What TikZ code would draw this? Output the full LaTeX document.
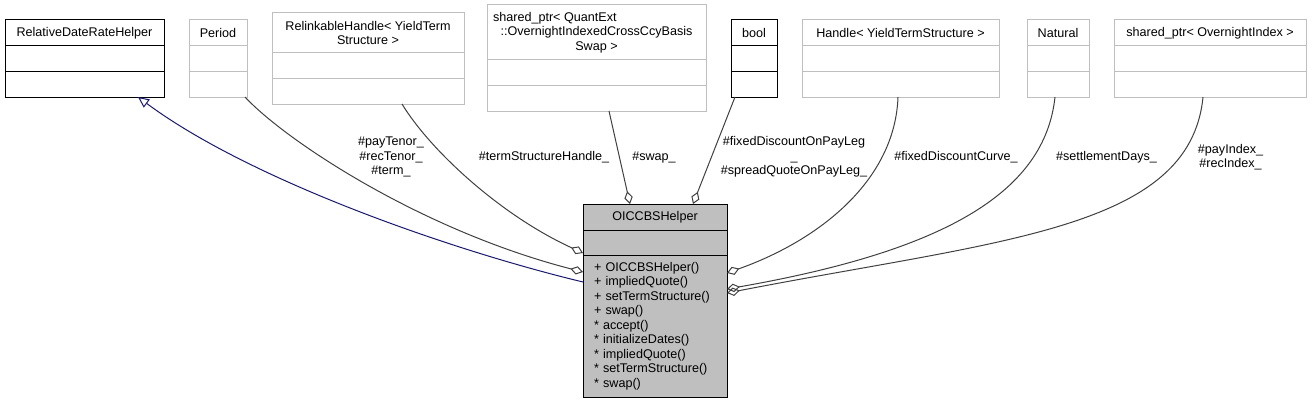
\documentclass[tikz,border=0pt]{standalone}
\usepackage{fontspec}
\setmainfont{Liberation Sans}
\usetikzlibrary{positioning, arrows.meta}
\definecolor{boxgray}{HTML}{BFBFBF}
\definecolor{edgegray}{HTML}{404040}
\definecolor{inheritblue}{HTML}{191970}

\begin{document}
\begin{tikzpicture}[x=1pt, y=-1pt, font=\fontsize{12.6}{14.5}\selectfont]
    % Define styles
    \tikzstyle{box} = [rectangle, draw=black, line width=1pt, inner sep=0pt, outer sep=0pt, align=center, minimum height=25.5pt]
    \tikzstyle{gbox} = [box, draw=boxgray]
    \tikzstyle{mainbox} = [box, fill=boxgray]
    \tikzstyle{lbl} = [align=center, inner sep=0pt]
    \tikzstyle{uses} = [draw=edgegray, line width=1pt, -{Diamond[open, length=13pt, width=8.5pt]}]
    \tikzstyle{inherit} = [draw=inheritblue, line width=1pt, -{Triangle[open, length=11pt, width=10pt]}]

    \useasboundingbox (0, 0) rectangle (1311, 404);

    % Top row of classes
    \node[box, minimum width=159pt, minimum height=26pt] (rdrh) at (84.5, 33) {RelativeDateRateHelper};
    \node[box, minimum width=159pt, below=0pt of rdrh] (rdrh-a) {};
    \node[box, minimum width=159pt, below=0pt of rdrh-a] (rdrh-b) {};

    \node[gbox, minimum width=58pt, minimum height=26pt] (period) at (218, 33) {Period};
    \node[gbox, minimum width=58pt, below=0pt of period] (period-a) {};
    \node[gbox, minimum width=58pt, below=0pt of period-a] (period-b) {};

    \node[gbox, minimum width=192pt, minimum height=40pt] (relink) at (368, 33) {RelinkableHandle< YieldTerm\\Structure >};
    \node[gbox, minimum width=192pt, below=0pt of relink] (relink-a) {};
    \node[gbox, minimum width=192pt, below=0pt of relink-a] (relink-b) {};

    \node[gbox, minimum width=219pt, minimum height=55pt] (swapptr) at (596.5, 32.5) {\makebox[207pt][l]{shared\_ptr< QuantExt}\\::OvernightIndexedCrossCcyBasis\\Swap >};
    \node[gbox, minimum width=219pt, below=0pt of swapptr] (swapptr-a) {};
    \node[gbox, minimum width=219pt, below=0pt of swapptr-a] (swapptr-b) {};

    \node[box, minimum width=46pt, minimum height=26pt] (bool) at (754, 33) {bool};
    \node[box, minimum width=46pt, below=0pt of bool] (bool-a) {};
    \node[box, minimum width=46pt, below=0pt of bool-a] (bool-b) {};

    \node[gbox, minimum width=197pt, minimum height=26pt] (handle) at (900.5, 33) {Handle< YieldTermStructure >};
    \node[gbox, minimum width=197pt, below=0pt of handle] (handle-a) {};
    \node[gbox, minimum width=197pt, below=0pt of handle-a] (handle-b) {};

    \node[gbox, minimum width=62pt, minimum height=26pt] (natural) at (1058, 33) {Natural};
    \node[gbox, minimum width=62pt, below=0pt of natural] (natural-a) {};
    \node[gbox, minimum width=62pt, below=0pt of natural-a] (natural-b) {};

    \node[gbox, minimum width=192pt, minimum height=26pt] (indexptr) at (1210, 33) {shared\_ptr< OvernightIndex >};
    \node[gbox, minimum width=192pt, below=0pt of indexptr] (indexptr-a) {};
    \node[gbox, minimum width=192pt, below=0pt of indexptr-a] (indexptr-b) {};

    % Main class
    \node[mainbox, minimum width=144pt, minimum height=26pt] (main) at (655, 217) {OICCBSHelper};
    \node[mainbox, minimum width=144pt, minimum height=25pt, below=0pt of main] (main-a) {};
    \node[mainbox, minimum width=144pt, minimum height=142pt, text width=122pt, align=left, below=0pt of main-a] (main-b) {+ OICCBSHelper()\\+ impliedQuote()\\+ setTermStructure()\\+ swap()\\{}* accept()\\{}* initializeDates()\\{}* impliedQuote()\\{}* setTermStructure()\\{}* swap()};

    % Edges
    \draw[inherit] ([yshift=-27pt]main-b.north west) .. controls (450, 250) and (250, 180) .. ([xshift=53.5pt]rdrh-b.south);
    \draw[uses] ([xshift=-2pt]period-b.south east) .. controls (285, 140) and (420, 230) .. ([yshift=-17pt]main-b.north west);
    \draw[uses] ([xshift=34pt]relink-b.south) .. controls (430, 150) and (500, 215) .. ([yshift=2pt]main-a.south west);
    \draw[uses] ([xshift=12.5pt]swapptr-b.south) -- ([xshift=-25pt]main.north);
    \draw[uses] ([xshift=-19pt]bool-b.south) -- ([xshift=38pt]main.north);
    \draw[uses] ([xshift=-2.5pt]handle-b.south) .. controls (895, 180) and (820, 240) .. ([yshift=-18pt]main-b.north east);
    \draw[uses] ([xshift=-3pt]natural-b.south) .. controls (1045, 190) and (950, 250) .. ([yshift=-34pt]main-b.north east);
    \draw[uses] ([xshift=-7pt]indexptr-b.south) .. controls (1190, 230) and (1000, 240) .. ([yshift=-38pt]main-b.north east);

    % Edge labels
    \node[lbl] (tenorlbl) at (391, 157) {\#payTenor\_\\\#recTenor\_\\\#term\_};
    \node[lbl] (termlbl) at (544, 157) {\#termStructureHandle\_};
    \node[lbl] (swaplbl) at (654, 157) {\#swap\_};
    \node[lbl] (legflbl) at (794, 157) {\#fixedDiscountOnPayLeg\\\_\\\#spreadQuoteOnPayLeg\_};
    \node[lbl] (curvelbl) at (956, 157) {\#fixedDiscountCurve\_};
    \node[lbl] (dayslbl) at (1106.5, 157) {\#settlementDays\_};
    \node[lbl] (indexlbl) at (1230.5, 157) {\#payIndex\_\\\#recIndex\_};

\end{tikzpicture}
\end{document}
